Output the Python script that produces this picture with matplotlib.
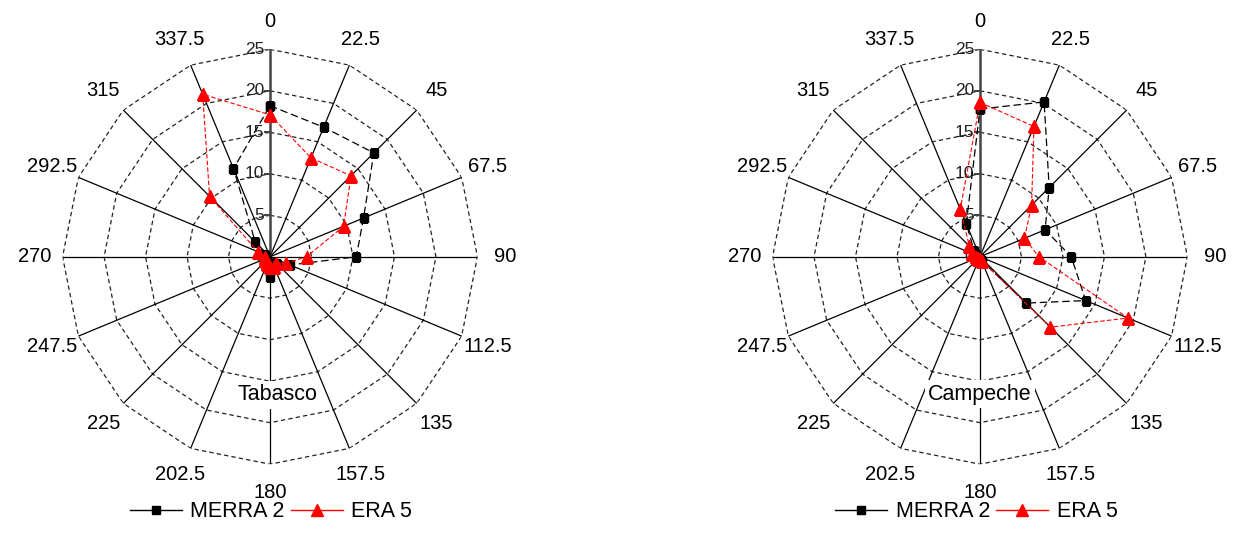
import numpy as np
import matplotlib.pyplot as plt
from matplotlib.lines import Line2D

plt.rcParams['font.family'] = ['Liberation Sans', 'DejaVu Sans']

# wind direction sectors (degrees) and their labels
directions = [0, 22.5, 45, 67.5, 90, 112.5, 135, 157.5,
              180, 202.5, 225, 247.5, 270, 292.5, 315, 337.5]
direction_labels = ['0', '22.5', '45', '67.5', '90', '112.5', '135', '157.5',
                    '180', '202.5', '225', '247.5', '270', '292.5', '315', '337.5']
ring_values = [5, 10, 15, 20, 25]

# frequency per direction sector
merra_tabasco = [18.2, 16.9, 17.7, 12.2, 10.4, 2.6, 1.2, 1.0,
                 2.4, 1.0, 0.5, 0.5, 0.5, 0.6, 2.5, 11.5]
era_tabasco = [17.1, 12.9, 13.8, 9.6, 4.4, 2.1, 1.1, 1.3,
               1.2, 0.9, 0.7, 0.6, 0.6, 1.6, 10.3, 21.2]
merra_campeche = [17.8, 20.2, 11.8, 8.5, 11.0, 13.8, 7.9, 0.5,
                  0.3, 0.3, 0.3, 0.3, 0.3, 0.5, 1.0, 4.3]
era_campeche = [18.6, 17.0, 8.8, 5.8, 7.1, 19.3, 12.0, 0.5,
                0.3, 0.3, 0.3, 0.3, 0.5, 1.0, 1.8, 6.2]


def draw_rose(ax, merra, era, name, name_xy):
    theta = np.deg2rad(directions)
    closed = np.append(theta, theta[0])
    ax.set_theta_zero_location('N')
    ax.set_theta_direction(-1)
    ax.set_ylim(0, 25)
    ax.grid(False)
    ax.spines['polar'].set_visible(False)
    ax.set_xticks([])
    ax.set_yticks([])

    # polygon rings
    for r in ring_values:
        ax.plot(closed, [r] * len(closed), color='#222222', lw=0.9,
                ls=(0, (3.5, 2.5)), zorder=1)
    # spokes
    for t in theta[1:]:
        ax.plot([t, t], [0, 25], color='black', lw=0.9, zorder=1)
    # radial axis with ticks and labels
    ax.plot([0, 0], [0, 25], color='#444444', lw=1.8, zorder=2)
    ax.plot([0] * 6, [0] + ring_values, ls='none', marker=0, ms=4,
            mew=1.2, color='#444444', zorder=2)
    for r in [0] + ring_values:
        ax.annotate(str(r), (0, r), xytext=(-4, 0), textcoords='offset points',
                    ha='right', va='center', fontsize=12.5, color='#222222',
                    zorder=2)
    # direction labels
    for t, lab in zip(theta, direction_labels):
        ax.text(t, 28.4, lab, ha='center', va='center', fontsize=14.5,
                clip_on=False)

    ax.plot(closed, np.append(merra, merra[0]), color='black', lw=0.9,
            ls=(0, (6, 3)), marker='s', ms=6, zorder=5)
    ax.plot(closed, np.append(era, era[0]), color='red', lw=0.8,
            ls=(0, (4, 2)), marker='^', ms=8.5, zorder=6)

    ax.text(name_xy[0], name_xy[1], name, transform=ax.transAxes,
            ha='center', va='center', fontsize=15.5, zorder=7,
            bbox=dict(boxstyle='square,pad=0.15', fc='white', ec='none'))


fig = plt.figure(figsize=(12.55, 5.36), dpi=100)
ax1 = fig.add_axes([0.0498, 0.134, 0.3307, 0.774], projection='polar')
ax2 = fig.add_axes([0.6155, 0.134, 0.3307, 0.774], projection='polar')

draw_rose(ax1, merra_tabasco, era_tabasco, 'Tabasco', (0.519, 0.167))
draw_rose(ax2, merra_campeche, era_campeche, 'Campeche', (0.5, 0.169))

handles = [Line2D([], [], color='black', lw=1, marker='s', ms=6),
           Line2D([], [], color='red', lw=1, marker='^', ms=8.5)]
for cx in (0.216, 0.778):
    fig.legend(handles, ['MERRA 2', 'ERA 5'], loc='center',
               bbox_to_anchor=(cx, 0.045), ncol=2, frameon=False,
               fontsize=15.5, handlelength=2.4, handletextpad=0.4,
               columnspacing=0.3)

fig.savefig('out.png', dpi=100)
